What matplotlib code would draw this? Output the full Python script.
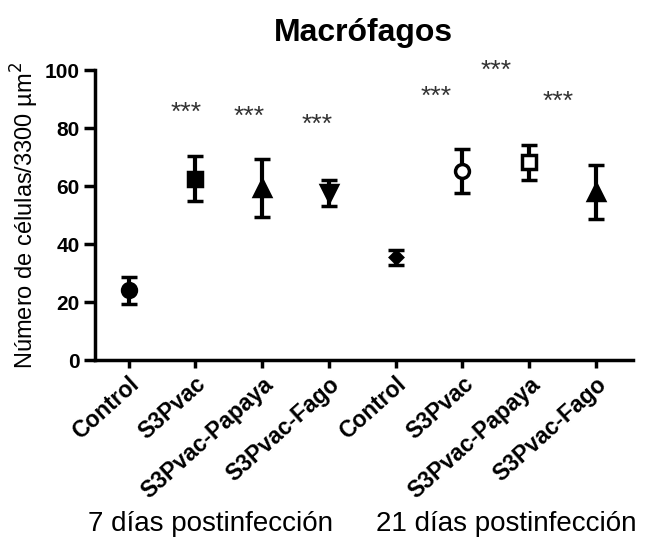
import matplotlib
matplotlib.use('Agg')
import matplotlib.pyplot as plt

plt.rcParams['font.family'] = ['Liberation Sans', 'DejaVu Sans']

# Data (mean and error half-width)
groups = ['Control', 'S3Pvac', 'S3Pvac-Papaya', 'S3Pvac-Fago',
          'Control', 'S3Pvac', 'S3Pvac-Papaya', 'S3Pvac-Fago']
means = [24.0, 62.6, 59.4, 57.6, 35.4, 65.2, 68.2, 58.1]
errors = [4.6, 7.8, 10.0, 4.4, 2.5, 7.6, 6.1, 9.3]
markers = ['o', 's', '^', 'v', 'D', 'o', 's', '^']
filled = [True, True, True, True, True, False, False, True]
sizes = [10, 10, 11, 11, 6, 10, 10, 12]

# significance stars: x position (shifted left of point) and height
star_x = [0.87, 1.8, 2.82, 4.6, 5.5, 6.43]
star_y = [85.2, 83.7, 81.2, 90.7, 99.7, 89.0]
day_labels = ['7 días postinfección', '21 días postinfección']

fig = plt.figure(figsize=(6.47, 5.39), dpi=100)
ax = fig.add_axes([0.147, 0.332, 0.831, 0.538])

for i in range(len(means)):
    face = 'black' if filled[i] else 'white'
    ax.errorbar(i, means[i], yerr=errors[i], fmt=markers[i], color='black',
                mfc=face, mec='black', mew=2.5, ms=sizes[i], elinewidth=3,
                capsize=6, capthick=3, zorder=3)

for x, y in zip(star_x, star_y):
    ax.text(x, y, '***', ha='center', va='center', fontsize=19,
            color='#333333', clip_on=False)

ax.set_xlim(-0.5, 7.55)
ax.set_ylim(0, 100)
ax.set_yticks([0, 20, 40, 60, 80, 100])
ax.set_xticks(range(len(groups)))
ax.set_xticklabels(groups, rotation=42, ha='right', rotation_mode='anchor',
                   fontsize=16.5, fontweight='bold')
for lab in ax.get_yticklabels():
    lab.set_fontweight('bold')
    lab.set_fontsize(15)

ax.spines['top'].set_visible(False)
ax.spines['right'].set_visible(False)
ax.spines['left'].set_linewidth(2.5)
ax.spines['bottom'].set_linewidth(2.5)
ax.tick_params(width=2.5, length=6, pad=3)
ax.tick_params(axis='y', length=8)

ax.set_ylabel('Número de células/3300 µm$^2$', fontsize=17, labelpad=3)
ax.set_title('Macrófagos', fontsize=23, fontweight='bold', pad=21)

fig.text(0.325, 0.028, day_labels[0], ha='center', va='center', fontsize=20)
fig.text(0.782, 0.028, day_labels[1], ha='center', va='center', fontsize=20)

fig.savefig('out.png', dpi=100)
